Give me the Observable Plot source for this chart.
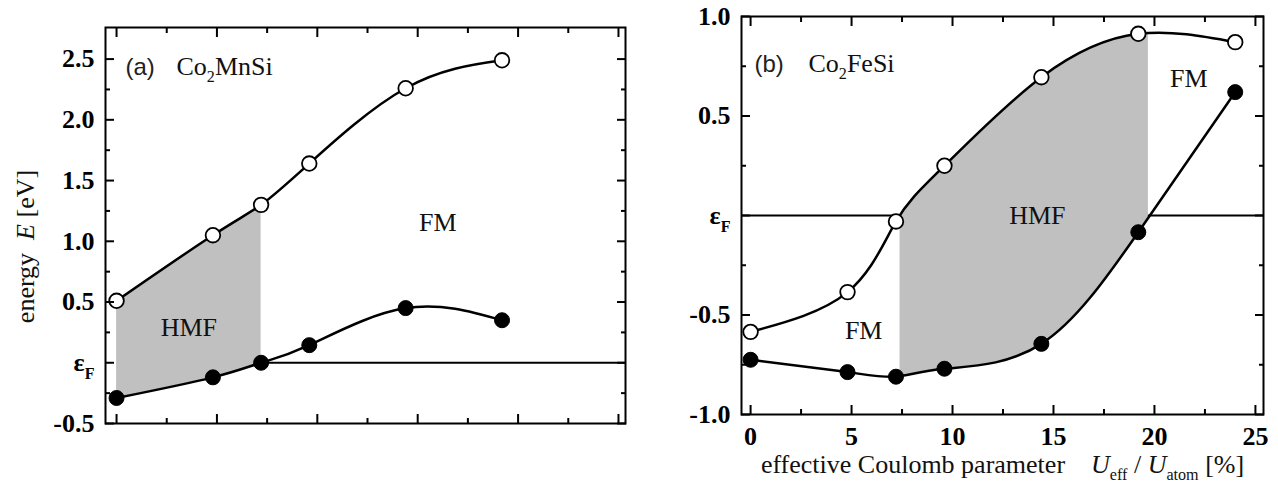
<!DOCTYPE html>
<html><head><meta charset="utf-8">
<script src="https://cdn.jsdelivr.net/npm/d3@7"></script>
<script src="https://cdn.jsdelivr.net/npm/@observablehq/plot@0.6"></script>
<style>
html,body{margin:0;padding:0;background:#fff;}
#chart{position:relative;width:1278px;height:493px;overflow:hidden;background:#fff;}
#chart svg{position:absolute;top:0;display:block;}
#chart svg g[aria-label$="tick label"] text{font-family:'Liberation Serif','Times New Roman',serif !important;}
</style></head><body><div id="chart"></div>
<script>
// ---- data: panel (a) Co2MnSi ----
const uPercentA = [0, 4.8, 7.2, 9.6, 14.4, 19.2];
const emptyStateA = [0.51, 1.05, 1.30, 1.64, 2.26, 2.49];      // open circles
const occupiedStateA = [-0.29, -0.12, 0.0, 0.145, 0.45, 0.35];  // filled circles
// ---- data: panel (b) Co2FeSi ----
const uPercentB = [0, 4.8, 7.2, 9.6, 14.4, 19.2, 24];
const emptyStateB = [-0.585, -0.385, -0.03, 0.25, 0.695, 0.913, 0.871];
const occupiedStateB = [-0.725, -0.787, -0.81, -0.77, -0.645, -0.084, 0.62];
// half-metallic ranges (U_eff/U_atom, %)
const hmfRangeA = [0, 7.2];
const hmfRangeB = [7.4, 19.7];
// Fermi level segments
const fermiSegmentsA = [[7.2, 25.35]];
const fermiSegmentsB = [[-0.45, 7.3], [19.7, 25.4]];
// ticks
const xTicksMajor = [0, 5, 10, 15, 20, 25];
const xTicksMinor = [2.5, 7.5, 12.5, 17.5, 22.5];
const yTicksMajorA = [-0.5, 0, 0.5, 1, 1.5, 2, 2.5];
const yTicksMinorA = [-0.25, 0.25, 0.75, 1.25, 1.75, 2.25];
const yTicksMajorB = [-1, -0.5, 0, 0.5, 1];
const yTicksMinorB = [-0.75, -0.25, 0.25, 0.75];
// region labels
const regionLabelsA = [{text: "HMF", u: 3.6, e: 0.29}, {text: "FM", u: 16.0, e: 1.15}];
const regionLabelsB = [{text: "HMF", u: 14.2, e: 0.0}, {text: "FM", u: 5.6, e: -0.58}, {text: "FM", u: 21.7, e: 0.69}];
const panelTags = ["(a)", "(b)"];
const compounds = ["Co_{2}MnSi", "Co_{2}FeSi"];
const yLabelText = "energy  *E* [eV]";
const xLabelText = "effective Coulomb parameter\u2003*U*_{eff} / *U*_{atom} [%]";

const NS = "http://www.w3.org/2000/svg";
const SERIF = "Liberation Serif";
const CURVE = "natural";
const yFmt = d => d === 0 ? "ε_{F}" : d.toFixed(1);

function panel(o) {
  const table = o.u.map((d, i) => ({u: d, empty: o.empty[i], occupied: o.occupied[i]}));
  // white masks outside the half-metallic range (shade only inside it)
  const masks = [[o.xDomain[0], o.hmf[0]], [o.hmf[1], o.xDomain[1]]];
  const frameAxes = [];
  for (const anchor of ["bottom", "top"]) {
    frameAxes.push(Plot.axisX(xTicksMajor, {anchor, tickSize: -9, tickFormat: () => "", strokeWidth: 2, label: null}));
    frameAxes.push(Plot.axisX(xTicksMinor, {anchor, tickSize: -5, tickFormat: () => "", strokeWidth: 2, label: null}));
  }
  for (const anchor of ["left", "right"]) {
    frameAxes.push(Plot.axisY(o.yMajor, {anchor, tickSize: -9, tickFormat: () => "", strokeWidth: 2, label: null}));
    frameAxes.push(Plot.axisY(o.yMinor, {anchor, tickSize: -5, tickFormat: () => "", strokeWidth: 2, label: null}));
  }
  const marks = [
    Plot.areaY(table, {x: "u", y1: "occupied", y2: "empty", curve: CURVE, fill: "#c0c0c0", fillOpacity: 1}),
    Plot.rect(masks, {x1: d => d[0], x2: d => d[1], y1: () => o.yDomain[0], y2: () => o.yDomain[1], fill: "white"}),
    Plot.ruleY(o.fermi, {y: () => 0, x1: d => d[0], x2: d => d[1], stroke: "black", strokeWidth: 2}),
    Plot.line(table, {x: "u", y: "empty", curve: CURVE, stroke: "black", strokeWidth: 2.5}),
    Plot.line(table, {x: "u", y: "occupied", curve: CURVE, stroke: "black", strokeWidth: 2.5}),
    Plot.dot(table, {x: "u", y: "empty", r: 7.3, fill: "white", stroke: "black", strokeWidth: 1.8}),
    Plot.dot(table, {x: "u", y: "occupied", r: 7.5, fill: "black", stroke: "black", strokeWidth: 1}),
    Plot.text(o.labels, {x: "u", y: "e", text: "text", fontSize: 26, fontFamily: SERIF, fill: "#111"}),
    Plot.text([o.tag], {frameAnchor: "top-left", text: d => d, dx: o.tagDx, dy: o.titleDy, textAnchor: "start", lineAnchor: "bottom", fontFamily: "Liberation Sans", fontSize: 24, fill: "#222"}),
    Plot.text([o.compound], {frameAnchor: "top-left", text: d => d, dx: o.compDx, dy: o.titleDy, textAnchor: "start", lineAnchor: "bottom", fontFamily: SERIF, fontSize: 26, fill: "#111"}),
    Plot.frame({stroke: "black", strokeWidth: 2}),
    ...frameAxes,
    Plot.axisY(o.yMajor, {anchor: "left", tickSize: 0, tickPadding: 11, tickFormat: yFmt, label: null, fontSize: 26, fontWeight: "bold", fontFamily: SERIF}),
  ];
  if (o.xLabels) {
    marks.push(Plot.axisX(xTicksMajor, {anchor: "bottom", tickSize: 0, tickPadding: 12, tickFormat: d => String(d), label: null, fontSize: 26, fontWeight: "bold", fontFamily: SERIF}));
    marks.push(Plot.text([xLabelText], {frameAnchor: "bottom", text: d => d, dy: 58, lineAnchor: "bottom", textAnchor: "middle", fontSize: 26, fontFamily: SERIF, fill: "#111"}));
  }
  if (o.yLabel) {
    marks.push(Plot.text([yLabelText], {frameAnchor: "left", text: d => d, rotate: -90, dx: -72, dy: 21, lineAnchor: "bottom", textAnchor: "middle", fontSize: 26, fontFamily: SERIF, fill: "#111"}));
  }
  return Plot.plot({
    width: o.width, height: 493,
    marginLeft: o.ml, marginRight: o.mr, marginTop: o.mt, marginBottom: o.mb,
    x: {domain: o.xDomain},
    y: {domain: o.yDomain},
    style: {fontFamily: "'Liberation Serif', serif", fontSize: "25px", color: "black", background: "white", overflow: "visible"},
    marks
  });
}

function richify(svg) {
  for (const t of svg.querySelectorAll("text")) {
    const s = t.textContent;
    if (!/_\{|\*/.test(s)) continue;
    const fs = parseFloat(getComputedStyle(t).fontSize) || 25;
    while (t.firstChild) t.removeChild(t.firstChild);
    let shift = 0;
    const re = /_\{([^}]*)\}|\*([^*]*)\*|([^_*]+)/g;
    let m;
    while ((m = re.exec(s))) {
      const ts = document.createElementNS(NS, "tspan");
      let target = 0;
      if (m[1] !== undefined) { ts.textContent = m[1]; ts.setAttribute("font-size", (fs * 0.62) + "px"); target = fs * 0.3; }
      else if (m[2] !== undefined) { ts.textContent = m[2]; ts.setAttribute("font-style", "italic"); }
      else ts.textContent = m[3];
      if (target !== shift) { ts.setAttribute("dy", target - shift); shift = target; }
      t.appendChild(ts);
    }
  }
}

const chart = document.getElementById("chart");
const left = panel({
  id: "a", u: uPercentA, empty: emptyStateA, occupied: occupiedStateA, fermi: fermiSegmentsA, hmf: hmfRangeA,
  labels: regionLabelsA, tag: panelTags[0], compound: compounds[0], tagDx: 20, compDx: 71, titleDy: 47,
  yMajor: yTicksMajorA, yMinor: yTicksMinorA, xLabels: false, yLabel: true,
  width: 640, ml: 105, mr: 15, mt: 27, mb: 70, xDomain: [-0.55, 25.35], yDomain: [-0.5, 2.76]
});
left.style.left = "0px";
chart.appendChild(left);
const right = panel({
  id: "b", u: uPercentB, empty: emptyStateB, occupied: occupiedStateB, fermi: fermiSegmentsB, hmf: hmfRangeB,
  labels: regionLabelsB, tag: panelTags[1], compound: compounds[1], tagDx: 13, compDx: 67, titleDy: 55,
  yMajor: yTicksMajorB, yMinor: yTicksMinorB, xLabels: true, yLabel: false,
  width: 638, ml: 101, mr: 15, mt: 16, mb: 79, xDomain: [-0.45, 25.4], yDomain: [-1, 1]
});
right.style.left = "640px";
chart.appendChild(right);

richify(left); richify(right);
</script></body></html>
